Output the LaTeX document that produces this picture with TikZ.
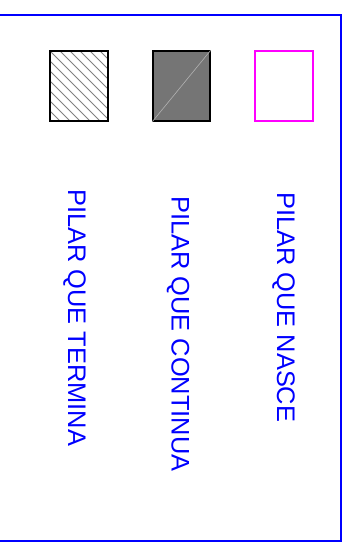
\documentclass[tikz,border=0pt]{standalone}
\usepackage{fontspec}
\setmainfont{Liberation Sans}
\definecolor{pmag}{rgb}{1,0,1}
\definecolor{pblue}{rgb}{0,0,1}
\begin{document}
\begin{tikzpicture}[x=1pt,y=-1pt,
  frame/.style={draw=pblue,line width=1.5pt},
  boxk/.style={draw=black,line width=1.3pt},
  label/.style={text=pblue,font=\fontsize{25.4}{27}\selectfont,rotate=-90,anchor=west,inner sep=0pt}]
\useasboundingbox (0,0) rectangle (360,543);
% frame
\draw[frame] (0,15) -- (341,15) -- (341,541) -- (0,541);
% hatched box
\begin{scope}
\clip (50,51) rectangle (108,121);
\foreach \k in {-80,-70,...,110} {
  \draw[gray,line width=0.8pt] (50+\k,51) -- (50+\k+80,131);
}
\end{scope}
\node[boxk,minimum width=58pt,minimum height=70pt,inner sep=0pt] (b1) at (79,86) {};
% gray box
\node[boxk,fill=black!54,minimum width=57pt,minimum height=70pt,inner sep=0pt] (b2) at (181.5,86) {};
\draw[black!30,line width=0.6pt] (b2.south west) -- (b2.north east);
% magenta box
\node[draw=pmag,line width=1.3pt,minimum width=58pt,minimum height=70pt,inner sep=0pt] (b3) at (284,86) {};
% labels
\node[label] (t1) at (74.5,189) {PILAR QUE TERMINA};
\node[label] (t2) at (178,196) {PILAR QUE CONTINUA};
\node[label] (t3) at (283.5,192) {PILAR QUE NASCE};
\end{tikzpicture}
\end{document}
